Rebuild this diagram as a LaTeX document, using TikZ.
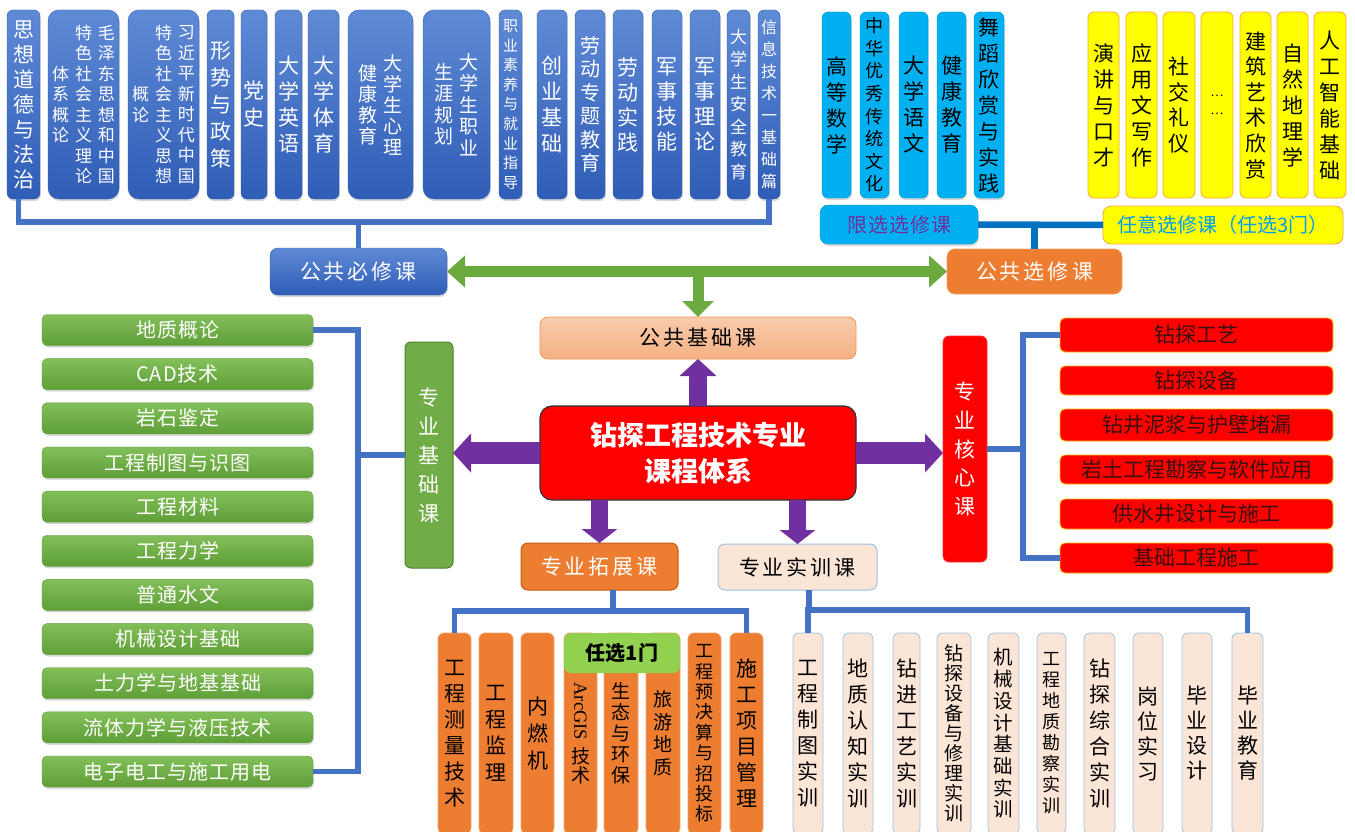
\documentclass[tikz,border=0pt]{standalone}
\usepackage{graphicx}
\usepackage{fontspec}
\setmainfont{Noto Sans CJK SC}
\newfontfamily\serifl{Liberation Serif}
\usetikzlibrary{arrows.meta,shadows}

% vertical text: one character per line, fixed line step (pt)
\ExplSyntaxOn
\NewDocumentCommand \vt { m m }
  {
    \tl_set:Nx \l_tmpa_tl {#2}
    \vbox:n
      {
        \skip_set:Nn \baselineskip { #1 pt }
        \dim_set:Nn \lineskiplimit { -100pt }
        \tl_map_inline:Nn \l_tmpa_tl { \hbox_to_wd:nn { 1.05em } { \hss ##1 \hss } }
      }
  }
% letter-spaced horizontal text
\NewDocumentCommand \spc { m m }
  {
    \tl_set:Nx \l_tmpb_tl {#2}
    \tl_map_inline:Nn \l_tmpb_tl { ##1 \hskip #1 pt } \unskip
  }
\ExplSyntaxOff
\newcommand\fs[1]{\fontsize{#1}{#1}\selectfont}
% box from corner (x1,y1) to (x2,y2)
\newcommand\bx[7][]{\node[#2,minimum width={(#5-#3)*1pt},minimum height={(#6-#4)*1pt},#1] (#7) at ({(#3+#5)/2},{(#4+#6)/2})}

\definecolor{bluetop}{HTML}{5F8AD6}
\definecolor{bluebot}{HTML}{2F5DB6}
\definecolor{conblue}{HTML}{4472C4}
\definecolor{darkblue}{HTML}{0070C0}
\definecolor{arrgreen}{HTML}{6AAA3E}
\definecolor{purp}{HTML}{7030A0}
\definecolor{cyanc}{HTML}{00B0F0}
\definecolor{yel}{HTML}{FFFF00}
\definecolor{yelborder}{HTML}{F5A83A}
\definecolor{orng}{HTML}{ED7D31}
\definecolor{orngdark}{HTML}{C55A11}
\definecolor{peach}{HTML}{FBE5D6}
\definecolor{peachborder}{HTML}{9DC3E6}
\definecolor{salmontop}{HTML}{F8CBAD}
\definecolor{salmonbot}{HTML}{F4B183}
\definecolor{grtop}{HTML}{82BF5A}
\definecolor{grbot}{HTML}{5F9F37}
\definecolor{grmid}{HTML}{70AD47}
\definecolor{grdark}{HTML}{507E32}
\definecolor{limeg}{HTML}{92D050}
\definecolor{redtext}{HTML}{3A1010}
\definecolor{redborder}{HTML}{FFC000}

\tikzset{
  every node/.style={inner sep=0pt, outer sep=0pt},
  softshadow/.style={drop shadow={shadow xshift=0.8pt, shadow yshift=-2pt, opacity=0.3}},
  topblue/.style={rounded corners=6pt, shade, top color=bluetop, bottom color=bluebot,
    draw=bluebot, line width=0.4pt, text=white, softshadow},
  cyanbox/.style={rounded corners=6pt, fill=cyanc, draw=cyanc!85!black, line width=0.4pt,
    text=black, softshadow},
  yelbox/.style={rounded corners=6pt, fill=yel, draw=yelborder, line width=0.8pt, text=black},
  greenbox/.style={rounded corners=5pt, shade, top color=grtop, bottom color=grbot,
    draw=grbot, line width=0.4pt, text=white, softshadow, font=\fs{20}},
  redbox/.style={rounded corners=5pt, fill=red, draw=redborder, line width=0.8pt,
    text=redtext, font=\fs{21}},
  orbox/.style={rounded corners=6pt, fill=orng, draw=orng!70!white, line width=0.8pt, text=black},
  pcbox/.style={rounded corners=6pt, fill=peach, draw=peachborder, line width=0.8pt, text=black},
  bus/.style={draw=conblue, line width=5.5pt},
  darkbus/.style={draw=darkblue, line width=6.5pt},
  garrow/.style={draw=arrgreen, line width=11pt},
  parrow/.style={draw=purp, line width=#1},
}

\begin{document}
\begin{tikzpicture}[x=1pt,y=-1pt]
\useasboundingbox (0,0) rectangle (1355,832);
\fill[white] (0,0) rectangle (1355,832);

% ---------- compulsory public courses (top left) ----------
\bx[font=\fs{21}]{topblue}{7}{10}{40}{199}{t1} {\vt{25}{思想道德与法治}};
\bx[font=\fs{17},rounded corners=11pt]{topblue}{48}{10}{119}{199}{t2}
  {$\vcenter{\vt{20.5}{体系概论}}\kern5pt\vcenter{\vt{20.5}{特色社会主义理论}}\kern5pt\vcenter{\vt{20.5}{毛泽东思想和中国}}$};
\bx[font=\fs{17},rounded corners=11pt]{topblue}{128}{10}{199}{199}{t3}
  {$\vcenter{\vt{20.5}{概论}}\kern5pt\vcenter{\vt{20.5}{特色社会主义思想}}\kern5pt\vcenter{\vt{20.5}{习近平新时代中国}}$};
\bx[font=\fs{21}]{topblue}{207}{10}{234}{199}{t4} {\vt{27}{形势与政策}};
\bx[font=\fs{21}]{topblue}{241}{10}{267}{199}{t5} {\vt{27}{党史}};
\bx[font=\fs{21}]{topblue}{275}{10}{302}{199}{t6} {\vt{26}{大学英语}};
\bx[font=\fs{21}]{topblue}{308}{10}{339}{199}{t7} {\vt{26}{大学体育}};
\bx[font=\fs{19},rounded corners=11pt]{topblue}{348}{10}{413}{199}{t8}
  {$\vcenter{\vt{21}{健康教育}}\kern5pt\vcenter{\vt{21}{大学生心理}}$};
\bx[font=\fs{19},rounded corners=11pt]{topblue}{423}{10}{490}{199}{t9}
  {$\vcenter{\vt{21.5}{生涯规划}}\kern5pt\vcenter{\vt{21.5}{大学生职业}}$};
\bx[font=\fs{15}]{topblue}{499}{10}{522}{199}{t10} {\vt{19.6}{职业素养与就业指导}};
\bx[font=\fs{21}]{topblue}{537}{10}{567}{199}{t11} {\vt{26}{创业基础}};
\bx[font=\fs{20}]{topblue}{575}{10}{605}{199}{t12} {\vt{23.5}{劳动专题教育}};
\bx[font=\fs{21}]{topblue}{613}{10}{643}{199}{t13} {\vt{25}{劳动实践}};
\bx[font=\fs{21}]{topblue}{652}{10}{682}{199}{t14} {\vt{25}{军事技能}};
\bx[font=\fs{21}]{topblue}{690}{10}{720}{199}{t15} {\vt{25}{军事理论}};
\bx[font=\fs{17}]{topblue}{727}{10}{750}{199}{t16} {\vt{22.5}{大学生安全教育}};
\bx[font=\fs{16}]{topblue}{758}{10}{780}{199}{t17} {\vt{22}{信息技术一基础篇}};

\bx[font=\fs{21}, rounded corners=8pt]{topblue}{270}{248}{447}{295}{pm} {\spc{3}{公共必修课}};

% ---------- elective public courses (top right) ----------
\bx[font=\fs{21}]{cyanbox}{822}{12}{851}{198}{c1} {\vt{26}{高等数学}};
\bx[font=\fs{18}]{cyanbox}{860}{12}{889}{198}{c2} {\vt{22.6}{中华优秀传统文化}};
\bx[font=\fs{21}]{cyanbox}{899}{12}{928}{198}{c3} {\vt{26}{大学语文}};
\bx[font=\fs{21}]{cyanbox}{937}{12}{966}{198}{c4} {\vt{26}{健康教育}};
\bx[font=\fs{21}]{cyanbox}{974}{12}{1004}{198}{c5} {\vt{26}{舞蹈欣赏与实践}};

\bx[font=\fs{21}]{yelbox}{1088}{12}{1119}{198}{y1} {\vt{26}{演讲与口才}};
\bx[font=\fs{21}]{yelbox}{1126}{12}{1157}{198}{y2} {\vt{26}{应用文写作}};
\bx[font=\fs{21}]{yelbox}{1163}{12}{1195}{198}{y3} {\vt{25.7}{社交礼仪}};
\bx[font=\fs{12}]{yelbox}{1201}{12}{1233}{198}{y4} {\vt{18}{……}};
\bx[font=\fs{21}]{yelbox}{1240}{12}{1271}{198}{y5} {\vt{25.6}{建筑艺术欣赏}};
\bx[font=\fs{21}]{yelbox}{1277}{12}{1308}{198}{y6} {\vt{26}{自然地理学}};
\bx[font=\fs{21}]{yelbox}{1314}{12}{1346}{198}{y7} {\vt{26}{人工智能基础}};

\bx[font=\fs{20}, rounded corners=8pt, text=purp]{cyanbox}{820}{205}{978}{244}{xx} {\spc{1}{限选选修课}};
\bx[font=\fs{20}, rounded corners=8pt, text=cyanc!90!blue]{yelbox}{1103}{206}{1343}{244}{ry} {任意选修课（任选3门）};
\bx[font=\fs{21}, rounded corners=8pt, fill=orng, draw=orng!75!white, line width=0.8pt, text=white]{}{947}{249}{1122}{294}{gxk} {\spc{3}{公共选修课}};

% ---------- centre ----------
\bx[font=\fs{21}, rounded corners=8pt, shade, top color=salmontop, bottom color=salmonbot,
    draw=orng!80!white, line width=0.8pt, text=black]{}{540}{317}{856}{359}{jc} {\spc{3}{公共基础课}};
\bx[font=\bfseries\fontsize{27}{36}\selectfont, align=center, rounded corners=12pt, fill=red,
    draw=black!80, line width=1.2pt, text=white]{}{540}{406}{856}{500}{core} {钻探工程技术专业\\课程体系};

\bx[font=\fs{21}, rounded corners=6pt, fill=grmid, draw=grdark, line width=1pt, text=white]{}{405}{342}{453}{568}{zj} {\vt{29}{专业基础课}};
\bx[font=\fs{21}, rounded corners=6pt, fill=red, draw=red!80!white, line width=0.6pt, text=white]{}{943}{336}{987}{562}{hx} {\vt{28.7}{专业核心课}};

\bx[font=\fs{21}, rounded corners=7pt, fill=orng, draw=orngdark, line width=1pt, text=white]{}{521}{543}{678}{590}{tz} {\spc{3}{专业拓展课}};
\bx[font=\fs{21}, rounded corners=7pt, fill=peach, draw=peachborder, line width=1pt, text=black]{}{718}{544}{877}{590}{sx} {\spc{3}{专业实训课}};

% ---------- basic professional courses (left list) ----------
\foreach \i/\t in {1/地质概论, 2/CAD技术, 3/岩石鉴定, 4/工程制图与识图, 5/工程材料, 6/工程力学,
                   7/普通水文, 8/机械设计基础, 9/土力学与地基基础, 10/流体力学与液压技术, 11/电子电工与施工用电}
{
  \pgfmathsetmacro\cy{330+44.15*(\i-1)}
  \node[greenbox, minimum width=271pt, minimum height=31pt] (g\i) at (177.5,\cy) {\spc{1}{\t}};
}

% ---------- core courses (right list) ----------
\bx{redbox}{1060}{318}{1333}{352}{r1} {钻探工艺};
\bx{redbox}{1060}{366}{1333}{395}{r2} {钻探设备};
\bx{redbox}{1060}{409}{1333}{441}{r3} {钻井泥浆与护壁堵漏};
\bx{redbox}{1060}{455}{1333}{484}{r4} {岩土工程勘察与软件应用};
\bx{redbox}{1060}{499}{1333}{529}{r5} {供水井设计与施工};
\bx{redbox}{1060}{543}{1333}{573}{r6} {基础工程施工};

% ---------- extension courses (bottom) ----------
\bx[font=\fs{21}]{orbox}{438}{633}{471}{834}{b1} {\vt{26}{工程测量技术}};
\bx[font=\fs{21}]{orbox}{479}{633}{513}{834}{b2} {\vt{26.7}{工程监理}};
\bx[font=\fs{21}]{orbox}{521}{633}{554}{834}{b3} {\vt{26.7}{内燃机}};
\bx[font=\fs{19}]{orbox}{564}{633}{597}{834}{b4}
  {\vbox{\hbox to 20pt{\hss\rotatebox{-90}{\serifl\fs{18.5}ArcGIS}\hss}\kern7pt\hbox to 20pt{\hss\vt{19}{技术}\hss}}};
\bx[font=\fs{19}]{orbox}{604}{633}{638}{834}{b5} {\vt{21}{生态与环保}};
\bx[font=\fs{19}]{orbox}{646}{633}{680}{834}{b6} {\vt{22.5}{旅游地质}};
\bx[font=\fs{18}]{orbox}{688}{633}{721}{834}{b7} {\vt{20.4}{工程预决算与招投标}};
\bx[font=\fs{21}]{orbox}{730}{633}{763}{834}{b8} {\vt{26}{施工项目管理}};
\bx[font=\bfseries\fs{20}, rounded corners=7pt, fill=limeg, text=black]{}{564}{633}{680}{673}{hdr} {任选1门};

% ---------- practical training courses (bottom right) ----------
\bx[font=\fs{21}]{pcbox}{793}{633}{823}{834}{p1} {\vt{26}{工程制图实训}};
\bx[font=\fs{21}]{pcbox}{843}{633}{873}{834}{p2} {\vt{26}{地质认知实训}};
\bx[font=\fs{21}]{pcbox}{893}{633}{920}{834}{p3} {\vt{26}{钻进工艺实训}};
\bx[font=\fs{19}]{pcbox}{937}{633}{971}{834}{p4} {\vt{20}{钻探设备与修理实训}};
\bx[font=\fs{19.5}]{pcbox}{988}{633}{1019}{834}{p5} {\vt{21.7}{机械设计基础实训}};
\bx[font=\fs{18}]{pcbox}{1037}{633}{1066}{834}{p6} {\vt{21}{工程地质勘察实训}};
\bx[font=\fs{21}]{pcbox}{1084}{633}{1115}{834}{p7} {\vt{26}{钻探综合实训}};
\bx[font=\fs{21}]{pcbox}{1133}{633}{1163}{834}{p8} {\vt{25}{岗位实习}};
\bx[font=\fs{21}]{pcbox}{1182}{633}{1212}{834}{p9} {\vt{25}{毕业设计}};
\bx[font=\fs{21}]{pcbox}{1232}{633}{1263}{834}{p10} {\vt{25}{毕业教育}};

% ---------- connectors ----------
\coordinate (tbus) at (357,222);
\draw[bus] ([xshift=-5pt]t1.south) |- (tbus) -| (t17.south);
\draw[bus] (pm.north) -- (pm.north |- tbus);

\draw[darkbus] (xx.east) -- (ry.west);
\draw[darkbus] (gxk.north) -- (gxk.north |- xx.east);

\coordinate (gbus) at (358,0);
\draw[bus] (g1.east) -- (g1.east -| gbus) |- (g11.east);
\draw[bus] (zj.west) -- (zj.west -| gbus);

\coordinate (rbus) at (1023,0);
\draw[bus] (hx.east) -- (hx.east -| rbus);
\draw[bus] (r1.west) -- (r1.west -| rbus) |- (r6.west);

\coordinate (ebus) at (613,611);
\draw[bus] (tz.south -| ebus) -- (ebus);
\draw[bus] (b1.north) |- (ebus) -| (b8.north);

\coordinate (pbus) at (809,610);
\draw[bus] (sx.south -| pbus) -- (pbus);
\draw[bus] (p1.north) |- (pbus) -| (p10.north);

% green double arrow between the two public course groups
\draw[garrow, {Triangle[width=31pt,length=18pt]}-{Triangle[width=31pt,length=18pt]}] (pm.east) -- (gxk.west);
\draw[garrow, -{Triangle[width=31pt,length=16pt]}] (pm.east -| jc.north) -- (jc.north);

% purple arrows from the centre
\draw[parrow=18pt, -{Triangle[width=36pt,length=17pt]}] (core.north) -- (jc.south);
\draw[parrow=22pt, -{Triangle[width=38pt,length=18pt]}] (core.west) -- (core.west -| zj.east);
\draw[parrow=22pt, -{Triangle[width=38pt,length=18pt]}] (core.east) -- (core.east -| hx.west);
\draw[parrow=17pt, -{Triangle[width=35pt,length=14pt]}] (core.south -| tz.north) -- (tz.north);
\draw[parrow=17pt, -{Triangle[width=35pt,length=14pt]}] (core.south -| sx.north) -- (sx.north);
\end{tikzpicture}
\end{document}
